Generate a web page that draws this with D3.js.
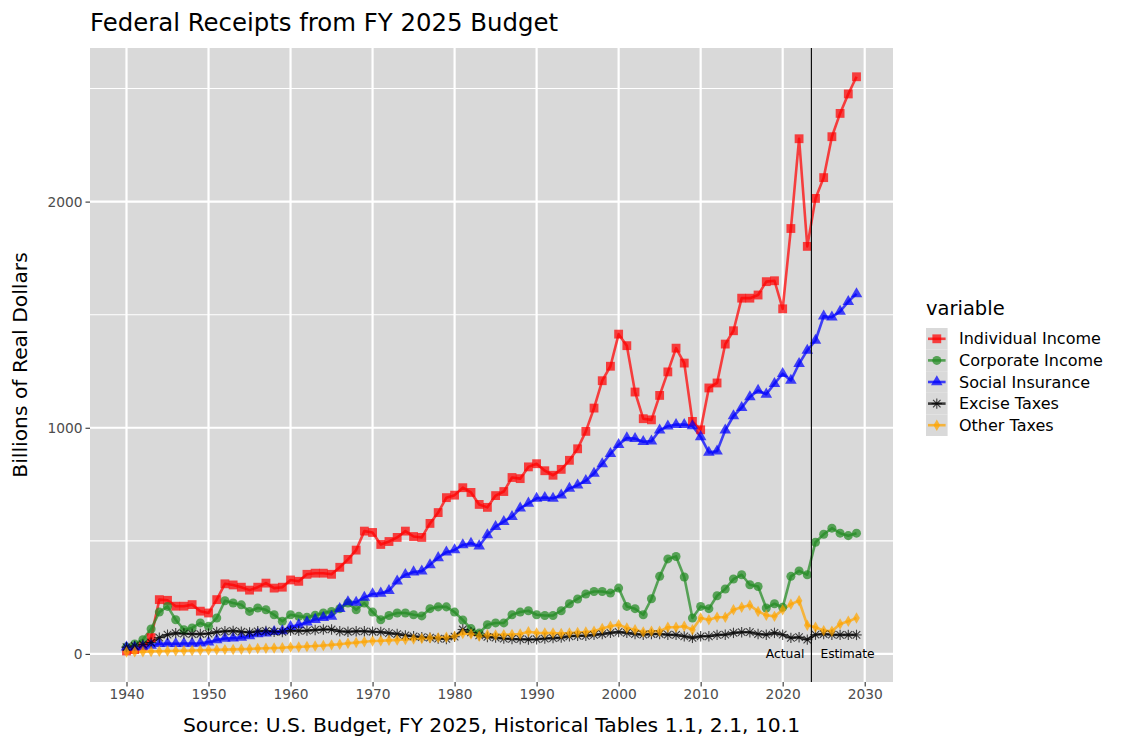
<!DOCTYPE html>
<html>
<head>
<meta charset="utf-8">
<script src="https://cdn.jsdelivr.net/npm/d3@7"></script>
<style>
  html, body { margin: 0; padding: 0; background: #ffffff; }
  svg text { font-family: "DejaVu Sans", "Liberation Sans", Arial, sans-serif; }
</style>
</head>
<body>
<svg id="chart" width="1125" height="750"></svg>
<script>
// ---------- DATA ----------
const years = d3.range(1940, 2030);
const seriesNames = ["Individual Income", "Corporate Income", "Social Insurance", "Excise Taxes", "Other Taxes"];
const seriesColors = ["red", "forestgreen", "blue", "black", "orange"];
const seriesShapes = ["square", "circle", "triangle", "asterisk", "diamond"];

const individualIncome = [13,19,35,72,240,237,211,211,218,189, 181,240,310,305,295,282,295,313,291,295,
  327,321,352,357,357,352,383,418,459,543, 537,484,497,515,543,519,515,577,625,691,
  702,735,714,661,648,700,718,780,775,827, 841,810,790,816,856,907,984,1087,1208,1272,
  1414,1363,1158,1040,1035,1143,1247,1352,1286,1028, 991,1176,1198,1370,1429,1573,1573,1587,1646,1650,
  1526,1881,2278,1802,2014,2106,2287,2390,2476,2552];
const corporateIncome = [30,44,63,110,185,210,151,107,115,137, 122,159,235,225,217,188,203,195,173,144,
  173,166,162,171,181,188,200,225,195,225, 185,151,170,181,181,173,168,200,208,208,
  185,150,112,92,129,137,137,173,185,191, 173,170,170,191,222,243,265,276,276,269,
  291,210,200,173,244,343,420,431,340,159, 210,200,257,287,331,350,306,298,203,222,
  206,343,367,350,494,529,556,534,523,534];
const socialInsurance = [30,30,33,38,45,46,45,46,46,47, 52,62,68,70,73,80,88,92,98,102,
  120,128,140,152,160,166,200,230,228,250, 265,268,280,322,350,362,366,394,425,450,
  460,482,489,477,526,563,585,607,644,666, 688,691,688,702,732,746,766,798,840,885,
  925,955,952,938,941,989,1007,1014,1014,1008, 960,891,896,989,1052,1089,1136,1165,1148,1195,
  1239,1209,1283,1342,1386,1493,1489,1514,1558,1592];
const exciseTaxes = [30,35,42,50,72,85,92,90,88,88, 90,97,100,102,98,95,100,102,98,97,
  103,102,103,106,108,108,100,98,100,100, 98,97,92,88,82,78,74,72,68,66,
  76,108,95,82,75,72,68,66,65,64, 65,68,70,72,78,80,80,84,88,93,
  97,93,88,85,88,88,85,84,78,71, 78,78,84,85,93,96,96,88,85,93,
  85,71,74,63,85,88,85,84,84,84];
const otherTaxes = [8,9,10,11,12,13,14,14,15,16, 17,18,19,20,21,22,24,25,26,27,
  30,31,33,35,37,40,43,47,50,54, 57,58,60,62,64,66,68,70,72,74,
  78,90,88,78,85,84,85,86,88,98, 93,92,92,90,92,95,97,100,112,122,
  129,115,107,97,100,100,118,118,122,107, 159,151,162,162,195,206,215,188,171,166,
  195,220,235,127,118,103,100,132,144,159];

const xTicks = [1940,1950,1960,1970,1980,1990,2000,2010,2020,2030];
const yTicks = [0,1000,2000];
const yMinorTicks = [500,1500,2500];
const splitYear = 2023.5;

const titleText = "Federal Receipts from FY 2025 Budget";
const xTitle = "Source: U.S. Budget, FY 2025, Historical Tables 1.1, 2.1, 10.1";
const yTitle = "Billions of Real Dollars";
const legendTitle = "variable";

const allValues = [individualIncome, corporateIncome, socialInsurance, exciseTaxes, otherTaxes];
const series = seriesNames.map((name, i) => ({
  name, color: seriesColors[i], shape: seriesShapes[i],
  points: years.map((y, j) => ({year: y, value: allValues[i][j]}))
}));

// ---------- LAYOUT ----------
const FONT = "DejaVu Sans, Liberation Sans, Arial, sans-serif";
const svg = d3.select("#chart");
const panel = {left: 90, right: 893, top: 48, bottom: 682};
const panelBg = "#D9D9D9";

const xMin = d3.min(years), xMax = d3.max(years);
const xPad = (xMax - xMin) * 0.05;
const x = d3.scaleLinear().domain([xMin - xPad, xMax + xPad]).range([panel.left, panel.right]);
const vMin = d3.min(allValues.flat()), vMax = d3.max(allValues.flat());
const yPad = (vMax - vMin) * 0.05;
const y = d3.scaleLinear().domain([vMin - yPad - 5, vMax + yPad]).range([panel.bottom, panel.top]);

// panel
svg.append("rect").attr("x", panel.left).attr("y", panel.top)
  .attr("width", panel.right - panel.left).attr("height", panel.bottom - panel.top)
  .attr("fill", panelBg);

const grid = svg.append("g");
grid.selectAll(".ymin").data(yMinorTicks).join("line")
  .attr("x1", panel.left).attr("x2", panel.right)
  .attr("y1", d => y(d)).attr("y2", d => y(d))
  .attr("stroke", "#ffffff").attr("stroke-width", 1.1);
grid.selectAll(".ymaj").data(yTicks).join("line")
  .attr("x1", panel.left).attr("x2", panel.right)
  .attr("y1", d => y(d)).attr("y2", d => y(d))
  .attr("stroke", "#ffffff").attr("stroke-width", 2.2);
grid.selectAll(".xmaj").data(xTicks).join("line")
  .attr("y1", panel.top).attr("y2", panel.bottom)
  .attr("x1", d => x(d)).attr("x2", d => x(d))
  .attr("stroke", "#ffffff").attr("stroke-width", 2.2);

// clip
svg.append("clipPath").attr("id", "clip").append("rect")
  .attr("x", panel.left).attr("y", panel.top)
  .attr("width", panel.right - panel.left).attr("height", panel.bottom - panel.top);
const plot = svg.append("g").attr("clip-path", "url(#clip)");

const line = d3.line().x(d => x(d.year)).y(d => y(d.value));
const OP = 0.72;

series.forEach(s => {
  plot.append("path").datum(s.points)
    .attr("d", line).attr("fill", "none")
    .attr("stroke", s.color).attr("stroke-width", 2.6)
    .attr("stroke-linejoin", "round").attr("opacity", OP);
});

function drawMarker(g, shape, color, cx, cy) {
  if (shape === "asterisk") {
    const r = 5.2;
    const gg = g.append("g").attr("transform", `translate(${cx},${cy})`).attr("opacity", OP);
    [[0, -r, 0, r], [-r, 0, r, 0], [-r*0.72, -r*0.72, r*0.72, r*0.72], [-r*0.72, r*0.72, r*0.72, -r*0.72]]
      .forEach(c => gg.append("line").attr("x1", c[0]).attr("y1", c[1]).attr("x2", c[2]).attr("y2", c[3])
        .attr("stroke", color).attr("stroke-width", 1.1));
    return;
  }
  let sym, size;
  if (shape === "square") { sym = d3.symbolSquare; size = 78; }
  else if (shape === "circle") { sym = d3.symbolCircle; size = 64; }
  else if (shape === "triangle") { sym = d3.symbolTriangle; size = 58; }
  else { sym = d3.symbolDiamond; size = 38; }
  g.append("path").attr("d", d3.symbol().type(sym).size(size)())
    .attr("transform", `translate(${cx},${cy})`)
    .attr("fill", color).attr("opacity", OP);
}

series.forEach(s => {
  const g = plot.append("g");
  s.points.forEach(p => drawMarker(g, s.shape, s.color, x(p.year), y(p.value)));
});

// split line + annotations
svg.append("line").attr("x1", x(splitYear)).attr("x2", x(splitYear))
  .attr("y1", panel.top).attr("y2", panel.bottom)
  .attr("stroke", "#000").attr("stroke-width", 1.1);
svg.append("text").attr("x", x(splitYear) - 7).attr("y", y(0)).attr("dy", "0.35em")
  .attr("text-anchor", "end").attr("font-size", 12.3).attr("fill", "#000").text("Actual");
svg.append("text").attr("x", x(splitYear) + 9).attr("y", y(0)).attr("dy", "0.35em")
  .attr("text-anchor", "start").attr("font-size", 12.3).attr("fill", "#000").text("Estimate");

// axes
const xAxis = d3.axisBottom(x).tickValues(xTicks).tickSize(4.5).tickPadding(3).tickFormat(d3.format("d"));
const gx = svg.append("g").attr("transform", `translate(0,${panel.bottom})`).call(xAxis);
gx.select(".domain").remove();
gx.selectAll("line").attr("stroke", "#333333").attr("stroke-width", 1.1);
gx.selectAll("text").attr("fill", "#4D4D4D").attr("font-size", 13.8).attr("font-family", FONT);

const yAxis = d3.axisLeft(y).tickValues(yTicks).tickSize(4.5).tickPadding(3).tickFormat(d3.format("d"));
const gy = svg.append("g").attr("transform", `translate(${panel.left},0)`).call(yAxis);
gy.select(".domain").remove();
gy.selectAll("line").attr("stroke", "#333333").attr("stroke-width", 1.1);
gy.selectAll("text").attr("fill", "#4D4D4D").attr("font-size", 13.8).attr("font-family", FONT);

// titles
svg.append("text").attr("x", 90).attr("y", 31).attr("font-size", 24.4).attr("fill", "#000").text(titleText);
svg.append("text").attr("x", (panel.left + panel.right) / 2).attr("y", 732)
  .attr("text-anchor", "middle").attr("font-size", 20.3).attr("fill", "#000").text(xTitle);
svg.append("text").attr("transform", `translate(27,${(panel.top + panel.bottom) / 2}) rotate(-90)`)
  .attr("text-anchor", "middle").attr("font-size", 20.3).attr("fill", "#000").text(yTitle);

// legend
const lg = svg.append("g").attr("transform", "translate(926,0)");
lg.append("text").attr("x", 0).attr("y", 315).attr("font-size", 19.5).attr("fill", "#000").text(legendTitle);
const keyH = 21.6, keyW = 21.6, keyTop = 328;
series.forEach((s, i) => {
  const ky = keyTop + i * keyH;
  lg.append("rect").attr("x", 0).attr("y", ky).attr("width", keyW).attr("height", keyH).attr("fill", panelBg);
  lg.append("line").attr("x1", 2).attr("x2", keyW - 2).attr("y1", ky + keyH / 2).attr("y2", ky + keyH / 2)
    .attr("stroke", s.color).attr("stroke-width", 2.6).attr("opacity", OP);
  drawMarker(lg, s.shape, s.color, keyW / 2, ky + keyH / 2);
  lg.append("text").attr("x", 33).attr("y", ky + keyH / 2).attr("dy", "0.35em")
    .attr("font-size", 16).attr("fill", "#000").text(s.name);
});
</script>
</body>
</html>
